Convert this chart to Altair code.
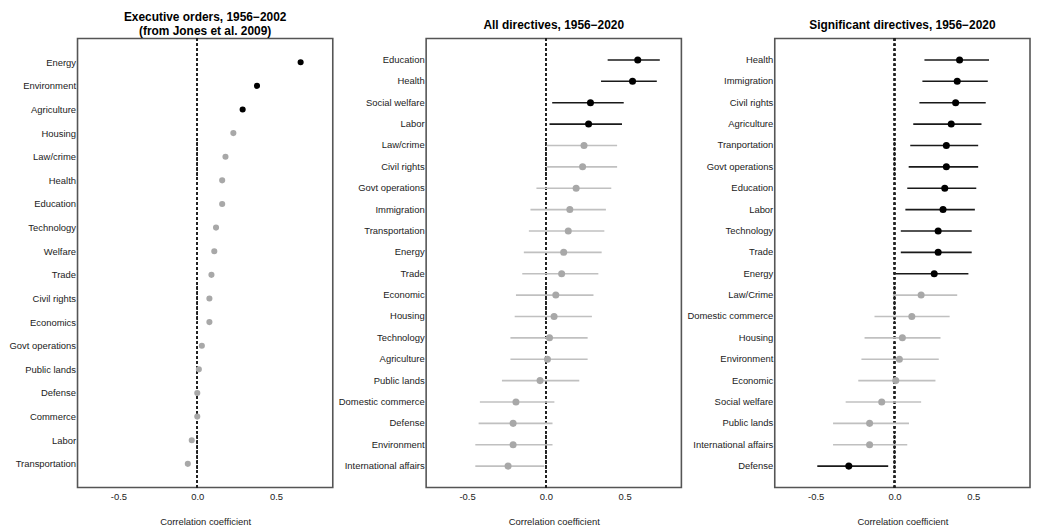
import altair as alt
import pandas as pd

# ---------------- data ----------------
eo_topics = ["Energy", "Environment", "Agriculture", "Housing", "Law/crime", "Health",
             "Education", "Technology", "Welfare", "Trade", "Civil rights", "Economics",
             "Govt operations", "Public lands", "Defense", "Commerce", "Labor", "Transportation"]
eo_est = [0.656, 0.379, 0.288, 0.229, 0.179, 0.158, 0.158, 0.119, 0.108, 0.090, 0.077, 0.077,
          0.029, 0.010, 0.000, 0.000, -0.035, -0.060]
eo_sig = ["yes", "yes", "yes"] + ["no"] * 15

all_topics = ["Education", "Health", "Social welfare", "Labor", "Law/crime", "Civil rights",
              "Govt operations", "Immigration", "Transportation", "Energy", "Trade", "Economic",
              "Housing", "Technology", "Agriculture", "Public lands", "Domestic commerce",
              "Defense", "Environment", "International affairs"]
all_est = [0.583, 0.550, 0.283, 0.271, 0.242, 0.233, 0.192, 0.152, 0.142, 0.113, 0.100, 0.063,
           0.052, 0.023, 0.010, -0.037, -0.190, -0.208, -0.208, -0.240]
all_lo = [0.392, 0.350, 0.040, 0.023, 0.005, 0.005, -0.060, -0.098, -0.108, -0.140, -0.150, -0.190,
          -0.198, -0.225, -0.225, -0.279, -0.419, -0.427, -0.448, -0.448]
all_hi = [0.723, 0.704, 0.494, 0.483, 0.452, 0.452, 0.415, 0.381, 0.371, 0.354, 0.333, 0.302,
          0.292, 0.265, 0.265, 0.212, 0.054, 0.042, 0.042, -0.010]
all_sig = ["yes"] * 4 + ["no"] * 16

sig_topics = ["Health", "Immigration", "Civil rights", "Agriculture", "Tranportation",
              "Govt operations", "Education", "Labor", "Technology", "Trade", "Energy",
              "Law/Crime", "Domestic commerce", "Housing", "Environment", "Economic",
              "Social welfare", "Public lands", "International affairs", "Defense"]
sig_est = [0.413, 0.398, 0.388, 0.360, 0.329, 0.329, 0.319, 0.308, 0.277, 0.277, 0.252,
           0.169, 0.110, 0.050, 0.031, 0.008, -0.081, -0.158, -0.158, -0.290]
sig_lo = [0.190, 0.177, 0.158, 0.119, 0.100, 0.090, 0.081, 0.069, 0.040, 0.040, 0.006,
          -0.010, -0.127, -0.190, -0.210, -0.230, -0.310, -0.390, -0.390, -0.490]
sig_hi = [0.600, 0.592, 0.579, 0.552, 0.531, 0.531, 0.519, 0.510, 0.490, 0.490, 0.469,
          0.398, 0.350, 0.292, 0.281, 0.260, 0.169, 0.092, 0.081, -0.040]
sig_sig = ["yes"] * 11 + ["no"] * 8 + ["yes"]

tick_values = [-0.5, 0.0, 0.5]

# ---------------- styling ----------------
W, H = 257, 452
FONT = "Liberation Sans"
pt_colors = alt.Scale(domain=["yes", "no"], range=["#000000", "#a8a8a8"])
ln_colors = alt.Scale(domain=["yes", "no"], range=["#1a1a1a", "#c0c0c0"])

x_axis = alt.Axis(values=tick_values, ticks=False, domain=False, grid=False,
                  labelExpr="datum.value < 0 ? '-' + format(-datum.value, '.1f') : format(datum.value, '.1f')",
                  labelFontSize=9.5, labelPadding=4, labelColor="#222",
                  title="Correlation coefficient", titleFontSize=9.5, titleFontWeight="normal",
                  titlePadding=16, titleColor="#222", labelFont=FONT, titleFont=FONT)
x_scale = alt.Scale(domain=[-0.76, 0.86], nice=False, zero=False)


def y_enc(order):
    return alt.Y("topic:N", sort=order, scale=alt.Scale(padding=1),
                 axis=alt.Axis(title=None, ticks=False, domain=False, grid=False,
                               labelFontSize=9.5, labelPadding=2, labelColor="#222",
                               labelFont=FONT, labelLimit=200))


def panel(topics, est, sig, title, lo=None, hi=None, size=50, offset=10):
    d = {"topic": topics, "est": est, "sig": sig}
    if lo is not None:
        d["lo"] = lo
        d["hi"] = hi
    df = pd.DataFrame(d)
    base = alt.Chart(df)
    zero = alt.Chart(df).mark_rule(color="#222", strokeDash=[2.5, 2.5], strokeWidth=1.2).encode(
        x=alt.datum(0, scale=x_scale, axis=x_axis))
    layers = [zero]
    if lo is not None:
        layers.append(base.mark_rule(strokeWidth=1.6).encode(
            x=alt.X("lo:Q", scale=x_scale, axis=x_axis), x2="hi:Q", y=y_enc(topics),
            color=alt.Color("sig:N", scale=ln_colors, legend=None)))
    layers.append(base.mark_circle(size=size, opacity=1).encode(
        x=alt.X("est:Q", scale=x_scale, axis=x_axis), y=y_enc(topics),
        color=alt.Color("sig:N", scale=pt_colors, legend=None)))
    return alt.layer(*layers).resolve_scale(color="independent").properties(
        width=W, height=H,
        title=alt.TitleParams(title, fontSize=12, fontWeight="bold", font=FONT,
                              anchor="middle", frame="group", offset=offset, lineHeight=14,
                              color="#000"))


p1 = panel(eo_topics, eo_est, eo_sig,
           ["Executive orders, 1956\u22122002", "(from Jones et al. 2009)"], size=38, offset=0)
p2 = panel(all_topics, all_est, all_sig, "All directives, 1956\u22122020", all_lo, all_hi, offset=6)
p3 = panel(sig_topics, sig_est, sig_sig, "Significant directives, 1956\u22122020", sig_lo, sig_hi, offset=6)

chart = alt.hconcat(p1, p2, p3, spacing=94, bounds="flush").resolve_scale(
    x="independent", y="independent").properties(
    padding={"left": 0, "top": 0, "right": 0, "bottom": 0}
).configure(background="white").configure_view(stroke="#555", strokeWidth=1.6)

chart.save("out.html", embed_options={"renderer": "svg", "actions": False})
